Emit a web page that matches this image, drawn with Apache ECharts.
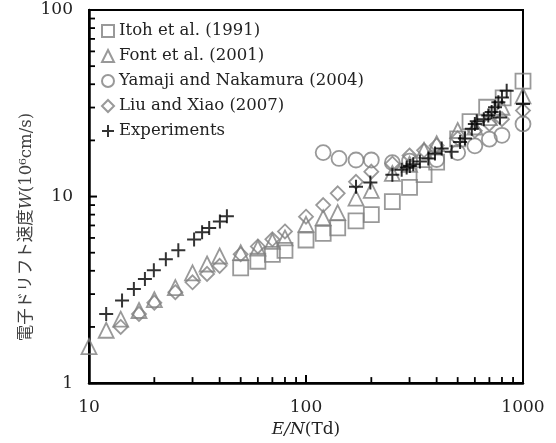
<!DOCTYPE html>
<html>
<head>
<meta charset="utf-8">
<script src="https://cdn.jsdelivr.net/npm/echarts@6/dist/echarts.min.js"></script>
<style>
html, body { margin: 0; padding: 0; background: #fff; }
#chart { width: 556px; height: 443px; }
</style>
</head>
<body>
<div id="chart"></div>
<script>
// E/N (Td), W (10^6 cm/s)
var itoh = [[50,4.15],[60,4.5],[70,4.9],[80,5.15],[100,5.85],[120,6.35],[140,6.8],[170,7.4],[200,8.0],
  [250,9.4],[300,11.2],[350,13.1],[400,15.3],[500,20.4],[570,25.2],[680,30.1],[810,33.8],[1000,41.6]];
var font = [[10,1.57],[12,1.92],[14,2.2],[17,2.45],[20,2.8],[25,3.25],[30,3.9],[35,4.35],[40,4.8],
  [50,5.0],[60,5.3],[70,5.75],[80,6.0],[100,7.1],[120,7.7],[140,8.2],[170,9.8],[200,10.8],[250,13.3],
  [300,14.9],[350,17.7],[400,19.2],[500,22.6],[600,23.6],[700,26.5],[800,30.1],[1000,34.7]];
var yamaji = [[120,17.2],[142,16.0],[170,15.7],[200,15.7],[250,15.2],[300,15.5],[400,15.8],
  [500,17.2],[600,18.7],[700,20.3],[800,21.3],[1000,24.5]];
var liu = [[14,2.0],[17,2.35],[20,2.7],[25,3.07],[30,3.47],[35,3.85],[40,4.25],[50,4.9],[60,5.4],
  [70,5.9],[80,6.5],[100,7.8],[120,9.0],[140,10.4],[170,12.0],[200,13.6],[250,15.0],[300,16.6],
  [350,17.7],[400,18.8],[500,20.5],[600,22.5],[700,24.5],[800,26],[1000,28.9]];
var expt = [[12,2.35],[14.2,2.77],[16.1,3.19],[18.1,3.61],[19.9,4.03],[22.6,4.61],[25.8,5.15],
  [30.5,5.89],[33.2,6.44],[35.8,6.79],[40.1,7.36],[43.2,7.83],
  [170,11.3],[198,11.9],[250,13.1],[276,13.9],[291,14.3],[301,14.6],[312,14.9],[335,15.4],
  [366,16.0],[393,17.0],[422,18.1],[469,17.4],[513,19.6],[540,20.5],[581,23.1],[600,24.5],
  [612,25.3],[660,26],[692,27.2],[717,28.4],[743,30.1],[770,32],[783,26.5],[800,34],[841,36.9],[1000,31.3]];

// tick positions
var xMajorTicks = [10, 100, 1000];
var xMinorTicks = [20, 30, 40, 50, 60, 70, 80, 90, 200, 300, 400, 500, 600, 700, 800, 900];
var yMajorTicks = [1, 10, 100];
var yMinorTicks = [2, 3, 4, 5, 6, 7, 8, 9, 20, 30, 40, 50, 60, 70, 80, 90];

var grey = '#808080';
var serif = "'DejaVu Serif', 'Noto Sans CJK JP', serif";
var crossPath = 'path://M0,7L14,7M7,0L7,14';

var chart = echarts.init(document.getElementById('chart'));

function hollow(name, symbol, size, data) {
  return {
    name: name,
    type: 'scatter',
    symbol: symbol,
    symbolSize: size,
    data: data,
    itemStyle: { color: 'transparent', borderColor: grey, borderWidth: 1.8 }
  };
}

// inside ticks drawn through the axes' own scales
function tickSeries(values, onX, len, width) {
  return {
    type: 'custom',
    silent: true,
    z: 5,
    data: values.map(function (v) { return onX ? [v, 1] : [10, v]; }),
    renderItem: function (params, api) {
      var p = api.coord([api.value(0), api.value(1)]);
      return {
        type: 'line',
        shape: onX
          ? { x1: p[0], y1: p[1], x2: p[0], y2: p[1] - len }
          : { x1: p[0], y1: p[1], x2: p[0] + len, y2: p[1] },
        style: { stroke: '#000', lineWidth: width }
      };
    }
  };
}

function logAxis(min, max) {
  return {
    type: 'log',
    min: min,
    max: max,
    logBase: 10,
    axisLine: { show: true, lineStyle: { color: '#000', width: 2.5 } },
    axisTick: { show: false },
    minorTick: { show: false },
    axisLabel: {
      margin: 16, fontSize: 17, color: '#222', fontFamily: serif,
      formatter: function (v) { return String(v); }
    },
    splitLine: { show: false }
  };
}

var xAxis = logAxis(10, 1000);
xAxis.name = '{i|E/N}(Td)';
xAxis.nameLocation = 'middle';
xAxis.nameGap = 37;
xAxis.nameTextStyle = {
  fontFamily: serif, fontSize: 17, color: '#222',
  rich: { i: { fontFamily: serif, fontStyle: 'italic', fontSize: 17, color: '#222' } }
};

chart.setOption({
  animation: false,
  textStyle: { fontFamily: serif },
  grid: {
    left: 89, right: 33, top: 10, bottom: 56,
    show: true, borderColor: '#000', borderWidth: 2
  },
  legend: {
    orient: 'vertical',
    left: 96,
    top: 17,
    itemWidth: 12,
    itemHeight: 12,
    itemGap: 7,
    textStyle: { fontFamily: serif, fontSize: 16.5, color: '#222', lineHeight: 18 },
    data: ['Itoh et al. (1991)', 'Font et al. (2001)', 'Yamaji and Nakamura (2004)', 'Liu and Xiao (2007)', 'Experiments']
  },
  xAxis: xAxis,
  yAxis: logAxis(1, 100),
  graphic: [{
    type: 'text',
    x: 27,
    y: 227,
    rotation: Math.PI / 2,
    style: {
      text: '電子ドリフト速度{w|W}(10⁶cm/s)',
      fontFamily: serif,
      fontSize: 16.5,
      fill: '#404040',
      align: 'center',
      verticalAlign: 'middle',
      rich: { w: { fontFamily: serif, fontStyle: 'italic', fontSize: 16.5, fill: '#404040' } }
    }
  }],
  series: [
    hollow('Itoh et al. (1991)', 'rect', 15, itoh),
    hollow('Font et al. (2001)', 'triangle', 15, font),
    hollow('Yamaji and Nakamura (2004)', 'circle', 15, yamaji),
    hollow('Liu and Xiao (2007)', 'diamond', 14, liu),
    {
      name: 'Experiments',
      type: 'scatter',
      symbol: crossPath,
      symbolSize: 14,
      data: expt,
      itemStyle: { color: 'transparent', borderColor: '#000', borderWidth: 2 }
    },
    tickSeries(xMajorTicks, true, 8, 2),
    tickSeries(xMinorTicks, true, 6, 1.8),
    tickSeries(yMajorTicks, false, 8, 2),
    tickSeries(yMinorTicks, false, 6, 1.8)
  ]
});
</script>
</body>
</html>
